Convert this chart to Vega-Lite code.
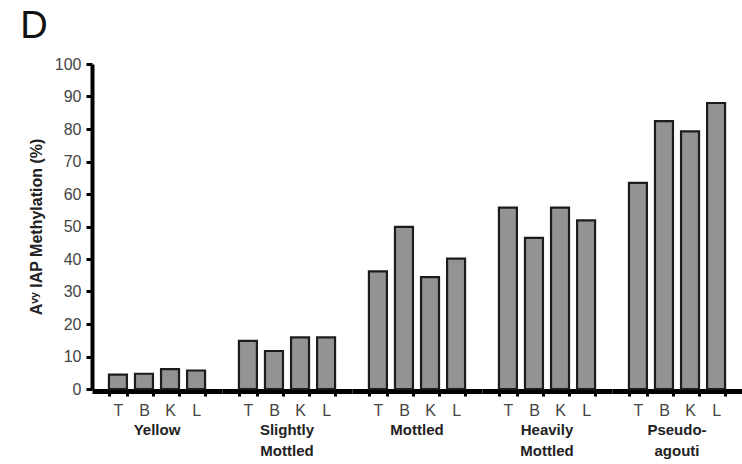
{
  "$schema": "https://vega.github.io/schema/vega-lite/v6.json",
  "padding": {"left": 20, "top": 8, "right": 0, "bottom": 0},
  "background": "white",
  "title": {"text": "D", "anchor": "start", "frame": "bounds", "fontSize": 38, "font": "Liberation Sans", "fontWeight": "normal", "color": "#111", "dx": -8, "offset": 10},
  "data": {"values": [
    {"group": "Yellow", "tissue": "T", "value": 4.4},
    {"group": "Yellow", "tissue": "B", "value": 4.7},
    {"group": "Yellow", "tissue": "K", "value": 6.1},
    {"group": "Yellow", "tissue": "L", "value": 5.7},
    {"group": "Slightly Mottled", "tissue": "T", "value": 14.8},
    {"group": "Slightly Mottled", "tissue": "B", "value": 11.7},
    {"group": "Slightly Mottled", "tissue": "K", "value": 15.9},
    {"group": "Slightly Mottled", "tissue": "L", "value": 15.9},
    {"group": "Mottled", "tissue": "T", "value": 36.2},
    {"group": "Mottled", "tissue": "B", "value": 49.9},
    {"group": "Mottled", "tissue": "K", "value": 34.4},
    {"group": "Mottled", "tissue": "L", "value": 40.1},
    {"group": "Heavily Mottled", "tissue": "T", "value": 55.8},
    {"group": "Heavily Mottled", "tissue": "B", "value": 46.5},
    {"group": "Heavily Mottled", "tissue": "K", "value": 55.8},
    {"group": "Heavily Mottled", "tissue": "L", "value": 51.9},
    {"group": "Pseudo-agouti", "tissue": "T", "value": 63.4},
    {"group": "Pseudo-agouti", "tissue": "B", "value": 82.4},
    {"group": "Pseudo-agouti", "tissue": "K", "value": 79.3},
    {"group": "Pseudo-agouti", "tissue": "L", "value": 88.0}
  ]},
  "facet": {
    "column": {
      "field": "group",
      "type": "nominal",
      "sort": ["Yellow", "Slightly Mottled", "Mottled", "Heavily Mottled", "Pseudo-agouti"],
      "header": {
        "title": null,
        "labelOrient": "bottom",
        "labelFont": "Liberation Sans",
        "labelFontWeight": "bold",
        "labelFontSize": 15,
        "labelColor": "#222",
        "labelPadding": 5,
        "labelLineHeight": 21,
        "labelBaseline": "top",
        "labelExpr": "datum.value == 'Pseudo-agouti' ? ['Pseudo-', 'agouti'] : split(datum.value, ' ')"
      }
    }
  },
  "spacing": 0,
  "spec": {
    "width": 130,
    "height": 325,
    "mark": {"type": "bar", "fill": "#939393", "stroke": "#1c1c1c", "strokeWidth": 2.2},
    "encoding": {
      "x": {
        "field": "tissue",
        "type": "nominal",
        "sort": ["T", "B", "K", "L"],
        "scale": {"paddingInner": 0.31, "paddingOuter": 0.65},
        "axis": {
          "title": null,
          "labelAngle": 0,
          "labelFont": "Liberation Sans",
          "labelFontSize": 16,
          "labelColor": "#444",
          "labelPadding": 6,
          "domainColor": "#000",
          "domainWidth": 5,
          "tickBand": "extent",
          "tickColor": "#000",
          "tickSize": 5,
          "tickWidth": 3
        }
      },
      "y": {
        "field": "value",
        "type": "quantitative",
        "scale": {"domain": [0, 100], "nice": false},
        "axis": {
          "values": [0, 10, 20, 30, 40, 50, 60, 70, 80, 90, 100],
          "title": "Aᵛʸ IAP Methylation (%)",
          "titleFont": "Liberation Sans",
          "titleFontSize": 16,
          "titleFontWeight": "bold",
          "titleColor": "#222",
          "titlePadding": 10,
          "grid": false,
          "labelFont": "Liberation Sans",
          "labelFontSize": 16,
          "labelColor": "#444",
          "labelPadding": 5,
          "domainColor": "#000",
          "domainWidth": 4,
          "tickColor": "#000",
          "tickSize": 6,
          "tickWidth": 3
        }
      }
    }
  },
  "config": {"view": {"stroke": null}}
}
